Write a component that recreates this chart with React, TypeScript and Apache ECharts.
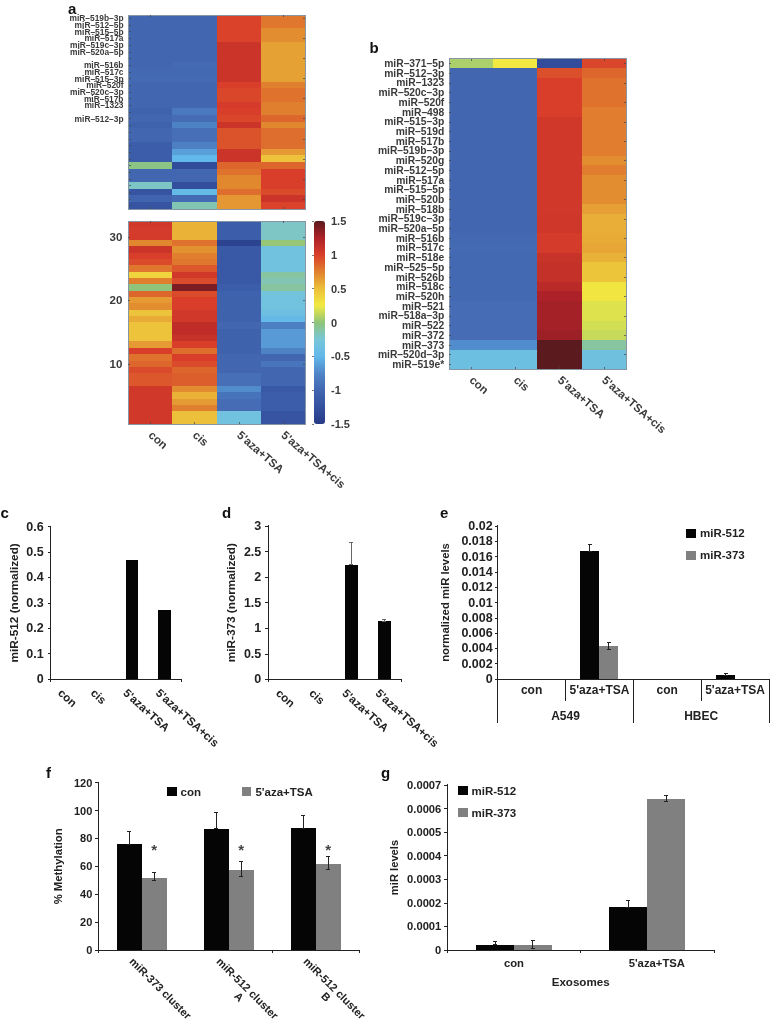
import React, { useEffect, useRef } from "react";
import * as echarts from "echarts";

const FONT = "Liberation Sans";
const INK = "#222";
const HEAT_INK = "#3a3a3a";
const BLACK = "#050505";
const GREY = "#808080";

const heatColumns = ["con", "cis", "5'aza+TSA", "5'aza+TSA+cis"];
const barCategories = ["con", "cis", "5'aza+TSA", "5'aza+TSA+cis"];
const colorStops = ["#283a86", "#33509f", "#4266b0", "#4f86c8", "#62b8ea", "#78c6d8", "#8fc47a", "#f2ea42", "#ecc03a", "#e0802e", "#d93e2a", "#ad2228", "#5a1a1e"];
const colorTicks = { "-1.5": "-1.5", "-1": "-1", "-0.5": "-0.5", "0": "0", "0.5": "0.5", "1": "1", "1.5": "1.5" } as Record<string, string>;

const topLabels = ["miR–519b–3p", "miR–512–5p", "miR–515–5p", "miR–517a", "miR–519c–3p", "miR–520a–5p", "", "miR–516b", "miR–517c", "miR–515–3p", "miR–520f", "miR–520c–3p", "miR–517b", "miR–1323", "", "miR–512–3p", "", "", "", "", "", "", "", "", "", "", "", "", ""];
const topRows = [
  [-1, -1, 0.98, 0.78], [-1, -1, 0.98, 0.78], [-1, -1, 0.98, 0.7], [-1, -1, 0.98, 0.7], [-1, -1, 1.08, 0.62], [-1, -1, 1.08, 0.62],
  [-1, -1, 1.08, 0.62], [-1, -0.97, 1.08, 0.62], [-0.98, -0.98, 1.08, 0.62], [-0.97, -0.97, 1.08, 0.62],
  [-1, -1, 1.0, 0.75], [-1, -1, 0.97, 0.8], [-1, -1, 0.97, 0.8], [-1, -1, 1.03, 0.75],
  [-1.03, -0.85, 1.0, 0.75], [-1, -0.95, 0.97, 0.85], [-1.05, -0.78, 1.08, 0.72], [-1, -0.93, 0.92, 0.82], [-1, -0.93, 0.92, 0.82],
  [-1.1, -0.8, 0.92, 0.82], [-1.1, -0.62, 1.08, 0.65], [-1.1, -0.5, 1.08, 0.48], [-0.03, -1.3, 0.85, 0.85],
  [-1, -1, 0.8, 1.0], [-1, -1, 0.72, 1.0], [-0.2, -1.27, 0.72, 1.0], [-1.2, -0.45, 0.82, 0.95], [-1.02, -0.97, 0.66, 1.08], [-1.2, -0.15, 0.66, 0.98],
];
const lowerIndex = ["32", "31", "30", "29", "28", "27", "26", "25", "24", "23", "22", "21", "20", "19", "18", "17", "16", "15", "14", "13", "12", "11", "10", "9", "8", "7", "6", "5", "4", "3", "2", "1"];
const lowerRows = [
  [1.05, 0.55, -1.1, -0.2], [1.03, 0.55, -1.1, -0.2], [1.03, 0.55, -1.1, -0.2], [0.72, 0.8, -1.4, 0.02],
  [1.08, 0.68, -1.15, -0.33], [1.0, 0.75, -1.15, -0.33], [0.95, 0.78, -1.15, -0.33], [0.78, 0.9, -1.15, -0.33],
  [0.38, 1.05, -1.15, -0.1], [0.75, 0.95, -1.15, -0.15], [0.0, 1.4, -1.1, -0.1], [0.85, 0.95, -1.05, -0.3],
  [0.65, 1.0, -1.05, -0.33], [0.7, 1.0, -1.05, -0.33], [0.48, 1.05, -1.05, -0.38], [0.58, 1.05, -1.05, -0.48],
  [0.48, 1.15, -1.0, -0.8], [0.48, 1.15, -1.05, -0.65], [0.48, 1.1, -1.05, -0.65], [0.65, 1.0, -1.05, -0.65],
  [1.0, 0.82, -1.05, -0.78], [0.8, 1.0, -1.0, -1.0], [0.85, 0.95, -1.0, -0.88], [0.95, 0.85, -1.0, -1.0],
  [0.9, 0.88, -0.93, -1.0], [0.9, 0.88, -0.93, -1.0], [1.05, 0.7, -0.72, -1.15], [1.05, 0.55, -0.9, -1.1],
  [1.05, 0.65, -0.95, -1.1], [1.05, 0.75, -0.95, -1.1], [1.05, 0.5, -0.33, -1.2], [1.05, 0.5, -0.33, -1.2],
];
const bLabels = ["miR–371–5p", "miR–512–3p", "miR–1323", "miR–520c–3p", "miR–520f", "miR–498", "miR–515–3p", "miR–519d", "miR–517b", "miR–519b–3p", "miR–520g", "miR–512–5p", "miR–517a", "miR–515–5p", "miR–520b", "miR–518b", "miR–519c–3p", "miR–520a–5p", "miR–516b", "miR–517c", "miR–518e", "miR–525–5p", "miR–526b", "miR–518c", "miR–520h", "miR–521", "miR–518a–3p", "miR–522", "miR–372", "miR–373", "miR–520d–3p", "miR–519e*"];
const bRows = [
  [0.07, 0.26, -1.3, 0.97], [-1, -1, 0.93, 0.85], [-1, -1, 1.0, 0.8], [-1, -1, 1.0, 0.8], [-1, -1, 1.0, 0.8], [-1, -1, 1.0, 0.76],
  [-1, -1, 1.05, 0.76], [-1, -1, 1.05, 0.76], [-1, -1, 1.05, 0.76], [-1, -1, 1.05, 0.76], [-1, -1, 1.05, 0.7], [-1, -1, 1.05, 0.76],
  [-1, -1, 1.05, 0.7], [-1, -1, 1.05, 0.7], [-1, -1, 1.05, 0.7], [-1, -1, 1.05, 0.63], [-1, -1, 1.06, 0.57], [-1, -1, 1.06, 0.57],
  [-0.98, -0.98, 1.03, 0.58], [-0.97, -0.97, 1.03, 0.6], [-0.98, -0.98, 1.1, 0.56], [-0.98, -0.98, 1.12, 0.47], [-0.98, -0.98, 1.12, 0.47],
  [-0.98, -0.98, 1.18, 0.28], [-0.98, -0.98, 1.25, 0.28], [-0.95, -0.95, 1.28, 0.2], [-0.95, -0.95, 1.28, 0.2], [-0.95, -0.95, 1.28, 0.17],
  [-0.95, -0.95, 1.3, 0.14], [-0.72, -0.72, 1.5, -0.1], [-0.38, -0.38, 1.5, -0.35], [-0.38, -0.38, 1.5, -0.35],
];

const cValues = [0, 0, 0.47, 0.272];
const dValues = [0, 0, 2.24, 1.14];
const dErrors = [[2, 2.24, 2.67], [3, 1.14, 1.17]];
const eCategories = ["con", "5'aza+TSA", "con", "5'aza+TSA"];
const eGroups = ["A549", "HBEC"];
const e512 = [0, 0.0167, 0, 0.0005];
const e373 = [0, 0.0043, 0, 0.00003];
const e512Errors = [[1, 0.0167, 0.0176], [3, 0.0005, 0.0007]];
const e373Errors = [[1, 0.0039, 0.0048]];
const fCategories = ["miR-373 cluster", "miR-512 cluster\nA", "miR-512 cluster\nB"];
const fCon = [76, 87, 87.5];
const fAza = [52, 57.5, 62];
const fConErrors = [[0, 76, 85], [1, 87, 98.5], [2, 87.5, 96.5]];
const fAzaErrors = [[0, 49.5, 55.5], [1, 53, 63.5], [2, 57.5, 67]];
const fStars = [[0, 73.5], [1, 73.5], [2, 73.5]];
const gCategories = ["con", "5'aza+TSA"];
const g512 = [0.000022, 0.000182];
const g373 = [0.000022, 0.000642];
const g512Errors = [[0, 0.000022, 0.000035], [1, 0.000182, 0.00021]];
const g373Errors = [[0, 0.000005, 0.00004], [1, 0.00063, 0.000656]];

const panelLetters = [
  ["a", 68, 8], ["b", 369.5, 47], ["c", 0.5, 512], ["d", 222, 512], ["e", 440, 512], ["f", 46, 772], ["g", 381, 772],
] as [string, number, number][];

const bold = (size: number, color = INK) => ({ fontFamily: FONT, fontWeight: "bold" as const, fontSize: size, color });

function errorSeries(name: string, x: number, y: number, data: number[][], slot: number, color: string) {
  return {
    type: "custom", name, xAxisIndex: x, yAxisIndex: y, data, z: 6, clip: false, silent: true,
    encode: { x: 0, y: [1, 2] },
    renderItem(_p: any, api: any) {
      const band = api.size([1, 0])[0];
      const cat = api.value(0);
      const lo = api.coord([cat, api.value(1)]);
      const hi = api.coord([cat, api.value(2)]);
      const cx = lo[0] + slot * band;
      const st = { stroke: color, lineWidth: 1 };
      const seg = (x1: number, y1: number, x2: number, y2: number) => ({ type: "line", shape: { x1, y1, x2, y2 }, style: st });
      return { type: "group", children: [seg(cx, lo[1], cx, hi[1]), seg(cx - 2, hi[1], cx + 2, hi[1]), seg(cx - 2, lo[1], cx + 2, lo[1])] };
    },
  };
}

function App() {
  const ref = useRef<HTMLDivElement | null>(null);
  useEffect(() => {
    if (!ref.current) return;
    const chart = echarts.init(ref.current, undefined, { renderer: "svg" });
    const grid: any[] = [], xAxis: any[] = [], yAxis: any[] = [], series: any[] = [];

    const addGrid = (left: number, top: number, right: number, bottom: number) => {
      grid.push({ left, top, width: right - left, height: bottom - top, containLabel: false, outerBoundsMode: "none" });
      return grid.length - 1;
    };

    const frameLine = { show: true, lineStyle: { color: "#8796a4", width: 1 } };
    const heatTick = (show = true) => ({ show, inside: true, length: 2, alignWithLabel: true, lineStyle: { color: "#444", width: 0.7 } });

    const addHeat = (box: number[], rows: number[][], yCats: string[], xLabels: boolean, yLabel: any, yTick: any) => {
      const g = addGrid(box[0], box[1], box[2], box[3]);
      const xi = xAxis.length, yi = yAxis.length;
      xAxis.push({
        gridIndex: g, type: "category", data: heatColumns, position: "bottom", z: 5, axisLine: frameLine, axisTick: heatTick(),
        axisLabel: xLabels ? { ...bold(11.5, HEAT_INK), rotate: -41, interval: 0, margin: 9 } : { show: false },
      });
      xAxis.push({ gridIndex: g, type: "category", data: heatColumns, position: "top", z: 5, axisLine: frameLine, axisTick: heatTick(), axisLabel: { show: false } });
      yAxis.push({ gridIndex: g, type: "category", data: yCats, inverse: true, position: "left", z: 5, axisLine: frameLine, axisTick: { ...heatTick(), ...yTick }, axisLabel: yLabel });
      yAxis.push({ gridIndex: g, type: "category", data: yCats, inverse: true, position: "right", z: 5, axisLine: frameLine, axisTick: { ...heatTick(), ...yTick }, axisLabel: { show: false } });
      const data: number[][] = [];
      rows.forEach((r, y) => r.forEach((v, x) => data.push([x, y, v])));
      series.push({ type: "heatmap", xAxisIndex: xi, yAxisIndex: yi, data, silent: true, itemStyle: { borderWidth: 0 }, emphasis: { disabled: true } });
    };

    addHeat([128.5, 15, 305.3, 209], topRows, topLabels, false, { ...bold(8.4, HEAT_INK), interval: 0, margin: 5 }, {});
    const decade = (_i: number, v: string) => Number(v) % 10 === 0;
    addHeat([128.3, 221, 305.3, 424.3], lowerRows, lowerIndex, true, { ...bold(11.5, HEAT_INK), interval: decade, margin: 6 }, { interval: decade });
    addHeat([449.3, 58.7, 626, 369.3], bRows, bLabels, true, { ...bold(10.3, HEAT_INK), interval: 0, margin: 5 }, {});

    // colour-bar scale
    const cb = addGrid(314, 221, 325, 424);
    xAxis.push({ gridIndex: cb, type: "value", show: false });
    yAxis.push({
      gridIndex: cb, type: "value", position: "right", min: -1.5, max: 1.5, interval: 0.5, z: 5,
      axisLine: { show: false }, axisTick: { show: true, inside: true, length: 2, lineStyle: { color: "#444", width: 0.7 } }, splitLine: { show: false },
      axisLabel: { ...bold(11, HEAT_INK), margin: 6, formatter: (v: number) => colorTicks[String(v)] ?? String(v) },
    });

    const lineStyle = { color: INK, width: 1.4 };
    const addBarAxes = (box: number[], cats: any[], yOpts: any, xOpts: any = {}) => {
      const g = addGrid(box[0], box[1], box[2], box[3]);
      const xi = xAxis.length, yi = yAxis.length;
      xAxis.push({
        gridIndex: g, type: "category", data: cats, axisLine: { show: true, lineStyle }, axisTick: { show: true, length: 3, lineStyle },
        axisLabel: { ...bold(11), interval: 0 }, ...xOpts,
      });
      yAxis.push({
        gridIndex: g, type: "value", min: 0, splitLine: { show: false }, axisLine: { show: true, lineStyle }, axisTick: { show: true, length: 3, lineStyle },
        axisLabel: { ...bold(yOpts.tickSize ?? 11), margin: yOpts.tickMargin ?? 6 }, nameLocation: "middle", nameTextStyle: bold(yOpts.nameSize ?? 10.5), ...yOpts,
      });
      return [g, xi, yi];
    };
    // labels only, on a copy of the category axis moved sideways
    const addLabelAxis = (box: number[], dx: number, cats: string[], label: any) => {
      const g = addGrid(box[0] + dx, box[1], box[2] + dx, box[3]);
      xAxis.push({ gridIndex: g, type: "category", data: cats, axisLine: { show: false }, axisTick: { show: false }, axisLabel: { ...bold(11.5), interval: 0, ...label } });
      yAxis.push({ gridIndex: g, type: "value", show: false, min: 0, max: 1 });
    };
    const singleBars = (xi: number, yi: number, data: number[]) =>
      series.push({ type: "bar", name: "values", xAxisIndex: xi, yAxisIndex: yi, data, barWidth: "39%", itemStyle: { color: BLACK }, silent: true });

    const cBox = [50.7, 526.7, 181, 679];
    const [, cx, cy] = addBarAxes(cBox, barCategories, { max: 0.6, interval: 0.1, name: "miR-512 (normalized)", nameGap: 31, nameSize: 11.8, tickSize: 12.5, tickMargin: 7 }, { axisLabel: { show: false } });
    singleBars(cx, cy, cValues);
    addLabelAxis(cBox, -7, barCategories, { rotate: -42, margin: 12 });

    const dBox = [268.3, 526, 401, 679.3];
    const [, dx, dy] = addBarAxes(dBox, barCategories, { max: 3, interval: 0.5, name: "miR-373 (normalized)", nameGap: 31, nameSize: 11.8, tickSize: 12.5, tickMargin: 7 }, { axisLabel: { show: false } });
    singleBars(dx, dy, dValues);
    series.push(errorSeries("err-d", dx, dy, dErrors, 0, "#666"));
    addLabelAxis(dBox, -7, barCategories, { rotate: -42, margin: 12 });

    const groupBars = (xi: number, yi: number, a: string, av: number[], b: string, bv: number[], width: string) => {
      series.push({ type: "bar", name: a, xAxisIndex: xi, yAxisIndex: yi, data: av, barWidth: width, barGap: 0, itemStyle: { color: BLACK }, silent: true });
      series.push({ type: "bar", name: b, xAxisIndex: xi, yAxisIndex: yi, data: bv, barWidth: width, barGap: 0, itemStyle: { color: GREY }, silent: true });
    };

    const [eg, ex, ey] = addBarAxes([497.7, 526, 769, 679], eCategories, { max: 0.02, interval: 0.002, name: "normalized miR levels", nameGap: 47, nameSize: 11.3, tickSize: 12.5, tickMargin: 5 },
      { axisTick: { show: true, length: 22, lineStyle }, axisLabel: { ...bold(12), interval: 0, margin: 5 } });
    xAxis.push({
      gridIndex: eg, type: "category", data: eGroups, position: "bottom", axisLine: { show: false },
      axisTick: { show: true, length: 44, lineStyle }, axisLabel: { ...bold(12), interval: 0, margin: 31 },
    });
    groupBars(ex, ey, "miR-512", e512, "miR-373", e373, "28%");
    series.push(errorSeries("err-e1", ex, ey, e512Errors, -0.14, INK));
    series.push(errorSeries("err-e2", ex, ey, e373Errors, 0.14, INK));

    const fBox = [98.3, 782.7, 359.3, 950];
    const [, fx, fy] = addBarAxes(fBox, fCategories, { max: 120, interval: 20, name: "% Methylation", nameGap: 35, nameSize: 11.3 }, { axisLabel: { show: false } });
    groupBars(fx, fy, "con", fCon, "5'aza+TSA", fAza, "28.4%");
    series.push(errorSeries("err-f1", fx, fy, fConErrors, -0.142, INK));
    series.push(errorSeries("err-f2", fx, fy, fAzaErrors, 0.142, INK));
    series.push({
      type: "scatter", name: "stars", xAxisIndex: fx, yAxisIndex: fy, data: fStars, symbolSize: 0, silent: true,
      label: { show: true, formatter: "*", position: "inside", offset: [12.3, 2], ...bold(15, "#111") },
    });
    addLabelAxis(fBox, 23, fCategories, { rotate: -45, align: "center", verticalAlign: "top", lineHeight: 12, margin: 34, fontSize: 11 });

    const gPads = [0, 19];
    const [, gx, gy] = addBarAxes([447.3, 785, 714, 950], gCategories.map((value, i) => ({ value, textStyle: { padding: [0, 0, 0, gPads[i]] } })),
      { max: 0.0007, interval: 0.0001, name: "miR levels", nameGap: 48, nameSize: 11.2, tickSize: 11.2 },
      { name: "Exosomes", nameLocation: "middle", nameGap: 25, nameTextStyle: bold(11.6), axisLabel: { ...bold(11.3), interval: 0, margin: 7 } });
    groupBars(gx, gy, "miR-512", g512, "miR-373", g373, "28.5%");
    series.push(errorSeries("err-g1", gx, gy, g512Errors, -0.142, INK));
    series.push(errorSeries("err-g2", gx, gy, g373Errors, 0.142, INK));

    const legendBase = { icon: "rect", padding: 0, selectedMode: false, textStyle: { ...bold(11.5), padding: [0, 0, 0, -1] } };
    chart.setOption({
      animation: false,
      backgroundColor: "#fff",
      textStyle: { fontFamily: FONT },
      grid, xAxis, yAxis, series,
      visualMap: {
        type: "continuous", min: -1.5, max: 1.5, seriesIndex: [0, 1, 2], show: true, calculable: false, hoverLink: false,
        left: 314, top: 221, itemWidth: 11, itemHeight: 203, padding: 0, text: ["", ""], textGap: 0,
        inRange: { color: colorStops }, textStyle: { fontSize: 1, color: "transparent" },
      },
      legend: [
        { ...legendBase, orient: "vertical", left: 686, top: 527, itemWidth: 10, itemHeight: 9, itemGap: 10, data: ["miR-512", "miR-373"] },
        { ...legendBase, orient: "horizontal", left: 167, top: 785.5, itemWidth: 9.5, itemHeight: 8.5, itemGap: 41, data: ["con", "5'aza+TSA"] },
        { ...legendBase, orient: "vertical", left: 458, top: 784.5, itemWidth: 9.5, itemHeight: 9, itemGap: 10, data: ["miR-512", "miR-373"] },
      ],
      graphic: panelLetters.map(([text, x, y]) => ({
        type: "text", x, y, style: { text, fill: "#111", font: `bold 15px ${FONT}`, textVerticalAlign: "middle" },
      })),
    });
    return () => chart.dispose();
  }, []);
  return (
    <>
      <style>{`#heat-figure svg path { shape-rendering: crispEdges; }`}</style>
      <div id="heat-figure" ref={ref} style={{ position: "absolute", left: 0, top: 0, width: 770, height: 1025, background: "#fff", filter: "blur(0.4px)" }} />
    </>
  );
}

export default App;
